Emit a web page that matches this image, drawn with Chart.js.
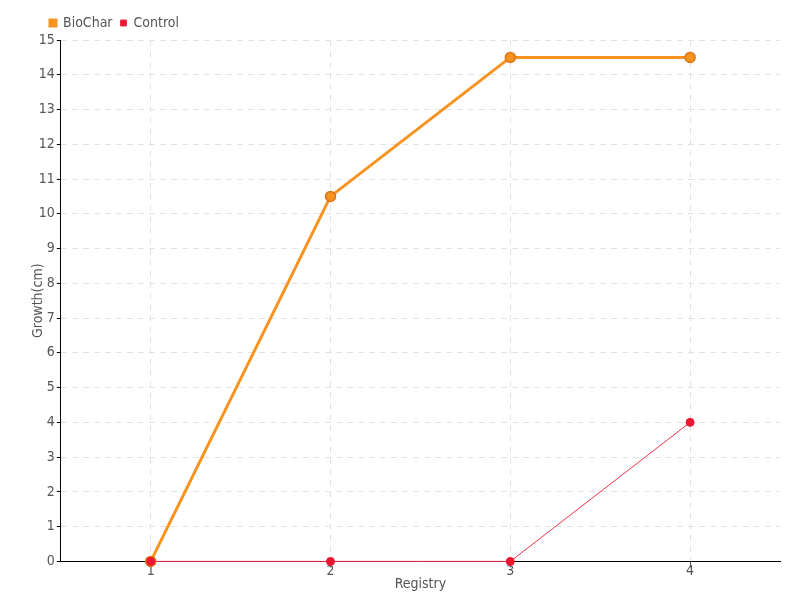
<!DOCTYPE html>
<html>
<head>
<meta charset="UTF-8" />
<title>Growth</title>
<script src="https://cdn.jsdelivr.net/npm/chart.js"></script>
<style>
  body { margin: 0; background: #fff; }
  #wrap { position: relative; width: 800px; height: 600px; }
</style>
</head>
<body>
<div id="wrap"><canvas id="myChart"></canvas></div>
<script>
  const registry = ['1', '2', '3', '4'];
  const biochar = [0, 10.5, 14.5, 14.5];
  const control = [0, 0, 0, 4];

  Chart.defaults.font.family = "'DejaVu Sans Condensed', 'Liberation Sans Narrow', sans-serif";
  Chart.defaults.color = '#555';

  new Chart(document.getElementById('myChart'), {
    type: 'line',
    data: {
      labels: registry,
      datasets: [
        {
          label: 'BioChar',
          data: biochar,
          borderColor: '#f7931e',
          backgroundColor: '#f7931e',
          pointBackgroundColor: '#f7931e',
          pointBorderColor: '#d9771a',
          borderWidth: 3,
          pointRadius: 5,
          pointBorderWidth: 1.5,
          tension: 0,
          clip: false,
          order: 1
        },
        {
          label: 'Control',
          data: control,
          borderColor: '#f2304a',
          backgroundColor: '#ee1530',
          pointBackgroundColor: '#ee1530',
          pointBorderColor: '#ee1530',
          borderWidth: 1,
          pointRadius: 4,
          tension: 0,
          clip: false,
          order: 0
        }
      ]
    },
    options: {
      responsive: true,
      maintainAspectRatio: false,
      animation: false,
      layout: { padding: { left: 17, right: 20, top: 8, bottom: 7 } },
      plugins: {
        legend: {
          align: 'start',
          labels: {
            boxWidth: 6,
            boxHeight: 6,
            padding: 8,
            font: { size: 14 },
            sort: (a, b) => a.datasetIndex - b.datasetIndex
          }
        },
        tooltip: { enabled: false }
      },
      scales: {
        x: {
          offset: true,
          border: { color: '#000', width: 1, dash: [6, 5] },
          grid: {
            color: '#e2e2e2',
            tickColor: '#555',
            tickLength: 6,
            offset: false
          },
          ticks: { font: { size: 14 }, padding: -4 },
          title: { display: true, text: 'Registry', font: { size: 14 }, padding: 0 }
        },
        y: {
          min: 0,
          max: 15,
          border: { color: '#000', width: 1, dash: [6, 5] },
          grid: {
            color: '#e2e2e2',
            tickColor: '#000',
            tickLength: 4
          },
          ticks: { stepSize: 1, font: { size: 14 }, padding: 2 },
          title: { display: true, text: 'Growth(cm)', font: { size: 14 }, padding: { top: 13, bottom: -10 } }
        }
      }
    },
    plugins: [{
      id: 'legendShift',
      afterUpdate(chart) {
        chart.legend.left = 42;
        chart.legend.adjustHitBoxes();
      }
    }]
  });
</script>
</body>
</html>
